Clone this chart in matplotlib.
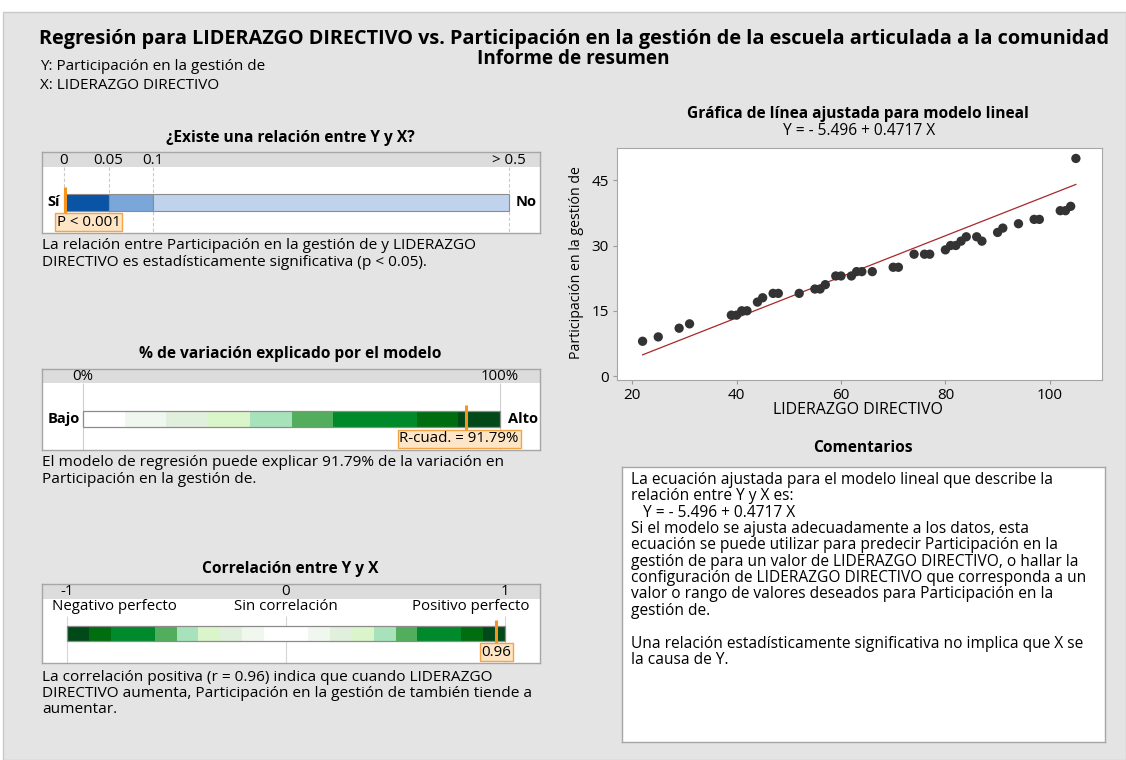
import numpy as np
import matplotlib.pyplot as plt
from matplotlib.patches import Rectangle

plt.rcParams['font.family'] = ['Open Sans', 'DejaVu Sans']

W, H = 1126, 760

# data
liderazgo = [22, 25, 29, 31, 39, 40, 41, 42, 44, 45, 47, 48, 52, 55, 56, 57, 59, 60, 62, 63, 64, 66,
             70, 71, 74, 76, 77, 80, 81, 82, 83, 84, 86, 87, 90, 91, 94, 97, 98, 102, 103, 104, 105]
participacion = [8, 9, 11, 12, 14, 14, 15, 15, 17, 18, 19, 19, 19, 20, 20, 21, 23, 23, 23, 24, 24, 24,
                 25, 25, 28, 28, 28, 29, 30, 30, 31, 32, 32, 31, 33, 34, 35, 36, 36, 38, 38, 39, 50]
intercept = -5.496
slope = 0.4717

p_value = 0.001
p_edges = [0, 0.05, 0.1, 0.5]
p_ticks = [0, 0.05, 0.1, 0.5]
p_tick_labels = ['0', '0.05', '0.1', '> 0.5']
p_colors = ['#0a54a5', '#7aa6da', '#bfd3ed']

r_sq = 91.79
r_sq_edges = [0, 10, 20, 30, 40, 50, 60, 80, 90, 100]
greens = ['#ffffff', '#f0f7ef', '#e1f0dc', '#daf5c9', '#a7e2bb', '#52ae5d', '#008a2b', '#006d11', '#02491a']

corr = 0.96
corr_edges = [-1, -0.9, -0.8, -0.6, -0.5, -0.4, -0.3, -0.2, -0.1, 0.1, 0.2, 0.3, 0.4, 0.5, 0.6, 0.8, 0.9, 1]
corr_colors = greens[::-1] + greens[1:]
corr_ticks = [-1, 0, 1]
corr_tick_labels = ['-1', '0', '1']

BODY = 11.1
HEAD = 11.2
SMALL = 10.8

fig = plt.figure(figsize=(W / 100, H / 100), dpi=100, facecolor='white')
fig.add_artist(Rectangle((3 / W, 0), (W - 3) / W, (H - 12) / H, transform=fig.transFigure,
                         fc='#e4e4e4', ec='#c9c9c9', lw=1, zorder=0))


def ftext(x, y, s, **kw):
    kw.setdefault('va', 'baseline')
    fig.text(x / W, 1 - y / H, s, **kw)


def add_ax(x0, y0, x1, y1):
    return fig.add_axes([x0 / W, 1 - y1 / H, (x1 - x0) / W, (y1 - y0) / H])


def box_style(ax, header=None):
    ax.set_facecolor('white')
    ax.set_xticks([])
    ax.set_yticks([])
    for s in ax.spines.values():
        s.set_color('#a6a6a6')
        s.set_linewidth(1)
    if header:
        ax.add_patch(Rectangle((0, 0), 1, header, transform=ax.get_yaxis_transform(),
                               fc='#dcdcdc', ec='none', zorder=0))


def gauge(ax, edges, colors, y, h, outline=False, ec='none'):
    edges = np.asarray(edges, dtype=float)
    ax.barh(y, edges[1:] - edges[:-1], left=edges[:-1], height=h, color=colors,
            edgecolor=ec, lw=0.8, zorder=2)
    if outline:
        ax.barh(y, edges[-1] - edges[0], left=edges[0], height=h, fill=False,
                edgecolor='#8c8c8c', lw=0.9, zorder=3)


label_box = dict(boxstyle='square,pad=0.12', fc='#fde5c6', ec='#f5a445', lw=1)
orange = '#f7941d'

# header texts
ftext(574, 44, 'Regresión para LIDERAZGO DIRECTIVO vs. Participación en la gestión de la escuela articulada a la comunidad',
      ha='center', fontsize=14.3, fontweight='bold')
ftext(573, 64, 'Informe de resumen', ha='center', fontsize=13.6, fontweight='bold')
ftext(40, 70, 'Y: Participación en la gestión de', fontsize=11)
ftext(40, 89, 'X: LIDERAZGO DIRECTIVO', fontsize=11)

# p-value panel
ftext(290, 142, '¿Existe una relación entre Y y X?', ha='center', fontsize=HEAD, fontweight='bold')
ax_p = add_ax(42, 152, 540, 233)
box_style(ax_p, header=15)
p_pos = [0, 1, 2, 10]


def p_scale(p):
    return np.interp(p, p_edges, p_pos)


ax_p.set_xlim(-22 / 44.5, 10 + 31 / 44.5)
ax_p.set_ylim(81, 0)
for t, lab in zip(p_ticks, p_tick_labels):
    ax_p.text(p_scale(t), 8, lab, ha='center', va='center', fontsize=SMALL)
ax_p.vlines(p_scale(p_ticks), 15, 81, colors='#c9c9c9', lw=0.8, linestyles=(0, (3, 2)), zorder=1)
gauge(ax_p, p_scale(p_edges), p_colors, 50.5, 17, ec='#8c8c8c')
ax_p.vlines(p_scale(p_value), 35, 63, color=orange, lw=2.2, zorder=4)
ax_p.text(p_scale(p_value) - 8 / 44.5, 70, 'P < 0.001', ha='left', va='center', fontsize=SMALL,
          bbox=label_box, zorder=5)
ftext(60, 206, 'Sí', ha='right', fontsize=10.5, fontweight='bold')
ftext(516, 206, 'No', ha='left', fontsize=10.5, fontweight='bold')
ftext(42, 249, 'La relación entre Participación en la gestión de y LIDERAZGO', fontsize=BODY)
ftext(42, 266, 'DIRECTIVO es estadísticamente significativa (p < 0.05).', fontsize=BODY)

# R-sq panel
ftext(290, 358, '% de variación explicado por el modelo', ha='center', fontsize=HEAD, fontweight='bold')
ax_r = add_ax(42, 369, 540, 450)
box_style(ax_r, header=14)
ax_r.set_xlim(-41 / 4.17, 100 + 40 / 4.17)
ax_r.set_ylim(81, 0)
for t, lab in zip([0, 100], ['0%', '100%']):
    ax_r.text(t, 7.5, lab, ha='center', va='center', fontsize=SMALL)
ax_r.vlines([0, 100], 14, 81, colors='#cfcfcf', lw=0.8, zorder=1)
gauge(ax_r, r_sq_edges, greens, 50, 16, outline=True)
ax_r.vlines(r_sq, 36, 63, color=orange, lw=2.2, zorder=4)
ax_r.text(104.5, 70, f'R-cuad. = {r_sq:.2f}%', ha='right', va='center', fontsize=SMALL,
          bbox=label_box, zorder=5)
ftext(80, 423, 'Bajo', ha='right', fontsize=10.5, fontweight='bold')
ftext(508, 423, 'Alto', ha='left', fontsize=10.5, fontweight='bold')
ftext(42, 466, f'El modelo de regresión puede explicar {r_sq:.2f}% de la variación en', fontsize=BODY)
ftext(42, 483, 'Participación en la gestión de.', fontsize=BODY)

# correlation panel
ftext(290, 573, 'Correlación entre Y y X', ha='center', fontsize=HEAD, fontweight='bold')
ax_c = add_ax(42, 584, 540, 663)
box_style(ax_c, header=15)
ax_c.set_xlim(-1 - 25 / 219, 1 + 35 / 219)
ax_c.set_ylim(79, 0)
for t, lab in zip(corr_ticks, corr_tick_labels):
    ax_c.text(t, 7.5, lab, ha='center', va='center', fontsize=SMALL)
ax_c.text(-1.07, 23, 'Negativo perfecto', ha='left', va='center', fontsize=SMALL)
ax_c.text(0, 23, 'Sin correlación', ha='center', va='center', fontsize=SMALL)
ax_c.text(1.11, 23, 'Positivo perfecto', ha='right', va='center', fontsize=SMALL)
ax_c.vlines(corr_ticks, 32, 79, colors='#d6d6d6', lw=0.8, zorder=1)
gauge(ax_c, corr_edges, corr_colors, 49.5, 15, outline=True)
ax_c.vlines(corr, 36, 61, color=orange, lw=2.2, zorder=4)
ax_c.text(corr, 68, f'{corr:.2f}', ha='center', va='center', fontsize=SMALL, bbox=label_box, zorder=5)
ftext(42, 681, f'La correlación positiva (r = {corr:.2f}) indica que cuando LIDERAZGO', fontsize=BODY)
ftext(42, 697, 'DIRECTIVO aumenta, Participación en la gestión de también tiende a', fontsize=BODY)
ftext(42, 713, 'aumentar.', fontsize=BODY)

# fitted line plot
ftext(858, 118, 'Gráfica de línea ajustada para modelo lineal', ha='center', fontsize=HEAD, fontweight='bold')
ftext(859, 135, f'Y = - {abs(intercept):.3f} + {slope:.4f} X', ha='center', fontsize=11.2)
ax_s = add_ax(617, 148, 1102, 380)
ax_s.set_facecolor('white')
x = np.array(liderazgo)
ax_s.scatter(x, participacion, s=45, color='#333333', edgecolors='none', zorder=3)
xs = np.array([x.min(), x.max()])
ax_s.plot(xs, intercept + slope * xs, color='#a8282a', lw=0.9, zorder=2)
ax_s.set_xlim(17.1, 110)
ax_s.set_ylim(-0.9, 52.4)
ax_s.set_xticks([20, 40, 60, 80, 100])
ax_s.set_yticks([0, 15, 30, 45])
ax_s.tick_params(length=3, color='#9a9a9a', labelsize=11, pad=3)
for s in ax_s.spines.values():
    s.set_color('#a6a6a6')
ftext(858, 414, 'LIDERAZGO DIRECTIVO', ha='center', fontsize=11.5)
fig.text(576 / W, 1 - 263 / H, 'Participación en la gestión de', rotation=90, ha='center', va='center',
         fontsize=10.2)

# comments
ftext(863, 452, 'Comentarios', ha='center', fontsize=HEAD, fontweight='bold')
ax_k = add_ax(622, 467, 1105, 742)
box_style(ax_k)
comment_lines = [
    'La ecuación ajustada para el modelo lineal que describe la',
    'relación entre Y y X es:',
    f'   Y = - {abs(intercept):.3f} + {slope:.4f} X',
    'Si el modelo se ajusta adecuadamente a los datos, esta',
    'ecuación se puede utilizar para predecir Participación en la',
    'gestión de para un valor de LIDERAZGO DIRECTIVO, o hallar la',
    'configuración de LIDERAZGO DIRECTIVO que corresponda a un',
    'valor o rango de valores deseados para Participación en la',
    'gestión de.',
    '',
    'Una relación estadísticamente significativa no implica que X se',
    'la causa de Y.',
]
for i, line in enumerate(comment_lines):
    ftext(631, 484 + i * 16.35, line, fontsize=11.2)

fig.savefig('out.png', dpi=100)
